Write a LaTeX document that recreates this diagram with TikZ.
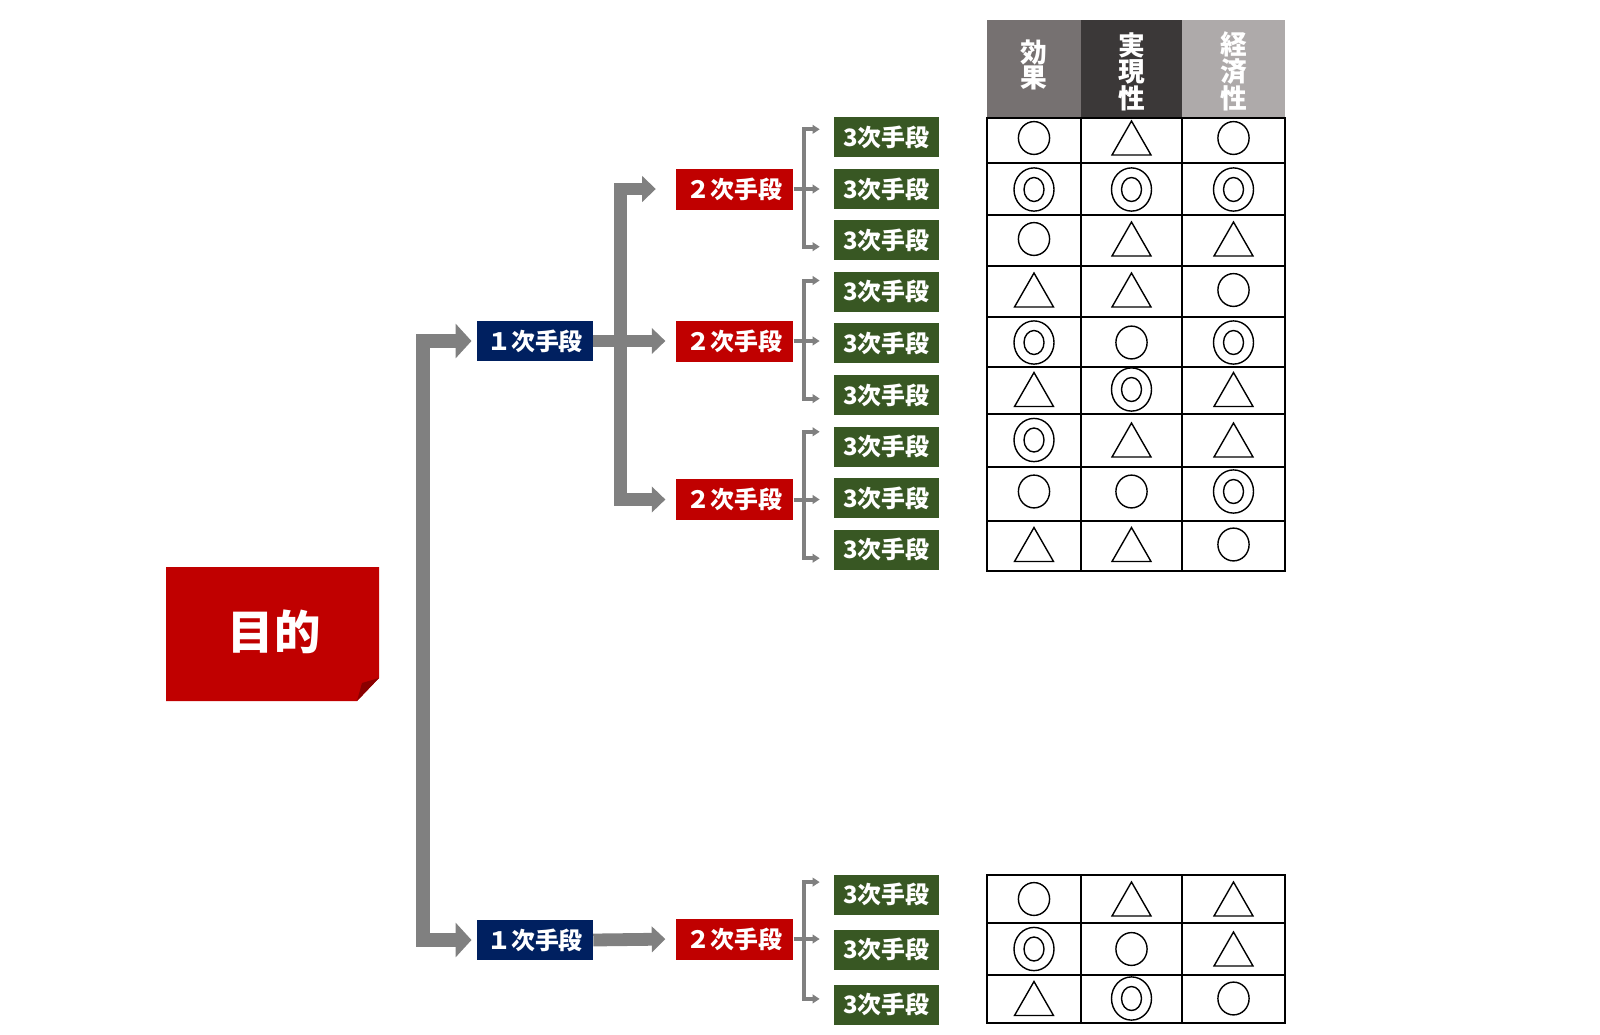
\documentclass[tikz,border=0pt]{standalone}
\usepackage{fontspec}
\newfontfamily\cjk{Noto Sans CJK JP}
\usetikzlibrary{arrows.meta}

\definecolor{mokuteki}{HTML}{C00000}
\definecolor{oriyama}{HTML}{8A0000}
\definecolor{ichiblue}{HTML}{002060}
\definecolor{sangreen}{HTML}{385723}
\definecolor{yajirushi}{HTML}{808080}
\definecolor{kouka}{HTML}{767171}
\definecolor{jitsugen}{HTML}{3B3838}
\definecolor{keizai}{HTML}{AEAAAA}

\def\maru(#1,#2){\draw[kigou] (#1,#2) ellipse [x radius=0.39cm, y radius=0.41cm];}
\def\nijumaru(#1,#2){\draw[kigou] (#1,#2) ellipse [x radius=0.5cm, y radius=0.54cm]; \draw[kigou] (#1,#2) ellipse [x radius=0.25cm, y radius=0.3cm];}
\def\sankaku(#1,#2){\draw[kigou] (#1,#2) ++(-19.5,17) -- ++(39,0) -- ++(-19.5,-34) -- cycle;}

\tikzset{
	bigtip/.tip={Triangle[length=0.4cm,width=0.85cm]},
	midtip/.tip={Triangle[length=0.34cm,width=0.63cm]},
	smalltip/.tip={Triangle[length=0.18cm,width=0.22cm]},
	futoya/.style={draw=yajirushi, line width=0.36cm, bigtip-bigtip, shorten <=0.13cm, shorten >=0.13cm},
	nakaya/.style={draw=yajirushi, line width=0.32cm, -midtip, shorten >=0.25cm},
	hosoya/.style={draw=yajirushi, line width=0.1cm, -smalltip, shorten >=0.35cm},
	kigou/.style={line width=0.035cm},
	waku/.style={line width=0.055cm},
	box/.style={inner sep=0, text=white, font={\cjk\bfseries\fontsize{17pt}{17pt}\selectfont}},
	ichibox/.style={box, fill=ichiblue, minimum width=2.9cm, minimum height=0.99cm},
	nibox/.style={box, fill=mokuteki, minimum width=2.94cm, minimum height=1.025cm},
	sanbox/.style={box, fill=sangreen, minimum width=2.625cm, minimum height=1cm},
	midashi/.style={inner sep=0, text=white, align=center, font={\cjk\bfseries\fontsize{19pt}{16.8pt}\selectfont}}
}

\begin{document}
\begin{tikzpicture}[x=0.025cm, y=-0.025cm]
	%%%%% START %%%%%
	\useasboundingbox (0,0) rectangle (1600,1034);
	
	% mokuteki
	\fill[mokuteki] (166,567) -- (379,567) -- (379,678) -- (357,701) -- (166,701) -- cycle;
	\fill[oriyama] (379,678) -- (362,683) -- (357,701) -- cycle;
	\node[text=white, font={\cjk\bfseries\fontsize{33pt}{33pt}\selectfont}] (goal) at (274,632) {目的};
	
	% 1ji
	\node[ichibox] (ichi1) at (535,341) {１次手段};
	\node[ichibox] (ichi2) at (535,940) {１次手段};
	
	% 2ji
	\node[nibox] (ni1) at (734.5,189) {２次手段};
	\node[nibox] (ni2) at (734.5,341) {２次手段};
	\node[nibox] (ni3) at (734.5,499.5) {２次手段};
	\node[nibox] (ni4) at (734.5,939) {２次手段};
	
	% 3ji
	\node[sanbox] (san1) at (886.5,137.3) {3次手段};
	\node[sanbox] (san2) at (886.5,189) {3次手段};
	\node[sanbox] (san3) at (886.5,240.3) {3次手段};
	\node[sanbox] (san4) at (886.5,291.7) {3次手段};
	\node[sanbox] (san5) at (886.5,343.3) {3次手段};
	\node[sanbox] (san6) at (886.5,395) {3次手段};
	\node[sanbox] (san7) at (886.5,446.6) {3次手段};
	\node[sanbox] (san8) at (886.5,498.2) {3次手段};
	\node[sanbox] (san9) at (886.5,549.8) {3次手段};
	\node[sanbox] (san10) at (886.5,894.5) {3次手段};
	\node[sanbox] (san11) at (886.5,949.5) {3次手段};
	\node[sanbox] (san12) at (886.5,1004.5) {3次手段};
	
	% yajirushi
	\draw[futoya] (ichi1.west) -- ++(-54,0) |- (ichi2.west);
	\draw[nakaya, midtip-midtip, shorten <=0.49cm] (ni1.west) -- ++(-55,0) |- (ni3.west);
	\draw[nakaya] (ichi1.east) -- (ni2.west);
	\draw[nakaya] (ichi2.east) -- (ni4.west);
	
	\draw[hosoya] (ni1.east) -- (ni1.east -| san2.west);
	\draw[hosoya, smalltip-smalltip, shorten <=0.35cm] ([yshift=0.2cm]san1.west) -- ++(-30,0) |- ([yshift=-0.16cm]san3.west);
	\draw[hosoya] (ni2.east) -- (ni2.east -| san5.west);
	\draw[hosoya, smalltip-smalltip, shorten <=0.35cm] ([yshift=0.28cm]san4.west) -- ++(-30,0) |- ([yshift=-0.09cm]san6.west);
	\draw[hosoya] (ni3.east) -- (ni3.east -| san8.west);
	\draw[hosoya, smalltip-smalltip, shorten <=0.35cm] ([yshift=0.37cm]san7.west) -- ++(-30,0) |- ([yshift=-0.21cm]san9.west);
	\draw[hosoya] (ni4.east) -- (ni4.east -| san11.west);
	\draw[hosoya, smalltip-smalltip, shorten <=0.35cm] ([yshift=0.31cm]san10.west) -- ++(-30,0) |- ([yshift=0.14cm]san12.west);
	
	% midashi
	\fill[kouka] (987,20) rectangle (1081,117);
	\fill[jitsugen] (1081,20) rectangle (1182,117);
	\fill[keizai] (1182,20) rectangle (1285,117);
	\node[midashi] (hKouka) at (1034,65) {効\\果};
	\node[midashi] (hJitsugen) at (1131.5,71.7) {実\\現\\性};
	\node[midashi] (hKeizai) at (1233.5,71.7) {経\\済\\性};
	
	% hyou (ue)
	\draw[waku] (987,118.3) rectangle (1285,571);
	\draw[waku] (987,163.3) -- (1285,163.3) (987,215) -- (1285,215) (987,265.7) -- (1285,265.7) (987,317.3) -- (1285,317.3);
	\draw[waku] (987,366.7) -- (1285,366.7) (987,414.3) -- (1285,414.3) (987,466.7) -- (1285,466.7) (987,520.7) -- (1285,520.7);
	\draw[waku] (1081,118.3) -- (1081,571) (1182,118.3) -- (1182,571);
	
	\maru(1034,138) \sankaku(1131.5,138) \maru(1233.5,138)
	\nijumaru(1034,189.5) \nijumaru(1131.5,189.5) \nijumaru(1233.5,189.5)
	\maru(1034,239) \sankaku(1131.5,239) \sankaku(1233.5,239)
	\sankaku(1034,290) \sankaku(1131.5,290) \maru(1233.5,290)
	\nijumaru(1034,342.5) \maru(1131.5,342.5) \nijumaru(1233.5,342.5)
	\sankaku(1034,389.5) \nijumaru(1131.5,389.5) \sankaku(1233.5,389.5)
	\nijumaru(1034,440) \sankaku(1131.5,440) \sankaku(1233.5,440)
	\maru(1034,491.5) \maru(1131.5,491.5) \nijumaru(1233.5,491.5)
	\sankaku(1034,544.5) \sankaku(1131.5,544.5) \maru(1233.5,544.5)
	
	% hyou (shita)
	\draw[waku] (987,875) rectangle (1285,1023.3);
	\draw[waku] (987,923.3) -- (1285,923.3) (987,975) -- (1285,975);
	\draw[waku] (1081,875) -- (1081,1023.3) (1182,875) -- (1182,1023.3);
	
	\maru(1034,899) \sankaku(1131.5,899) \sankaku(1233.5,899)
	\nijumaru(1034,949) \maru(1131.5,949) \sankaku(1233.5,949)
	\sankaku(1034,998.5) \nijumaru(1131.5,998.5) \maru(1233.5,998.5)
	%%%%% END %%%%%
\end{tikzpicture}
\end{document}
